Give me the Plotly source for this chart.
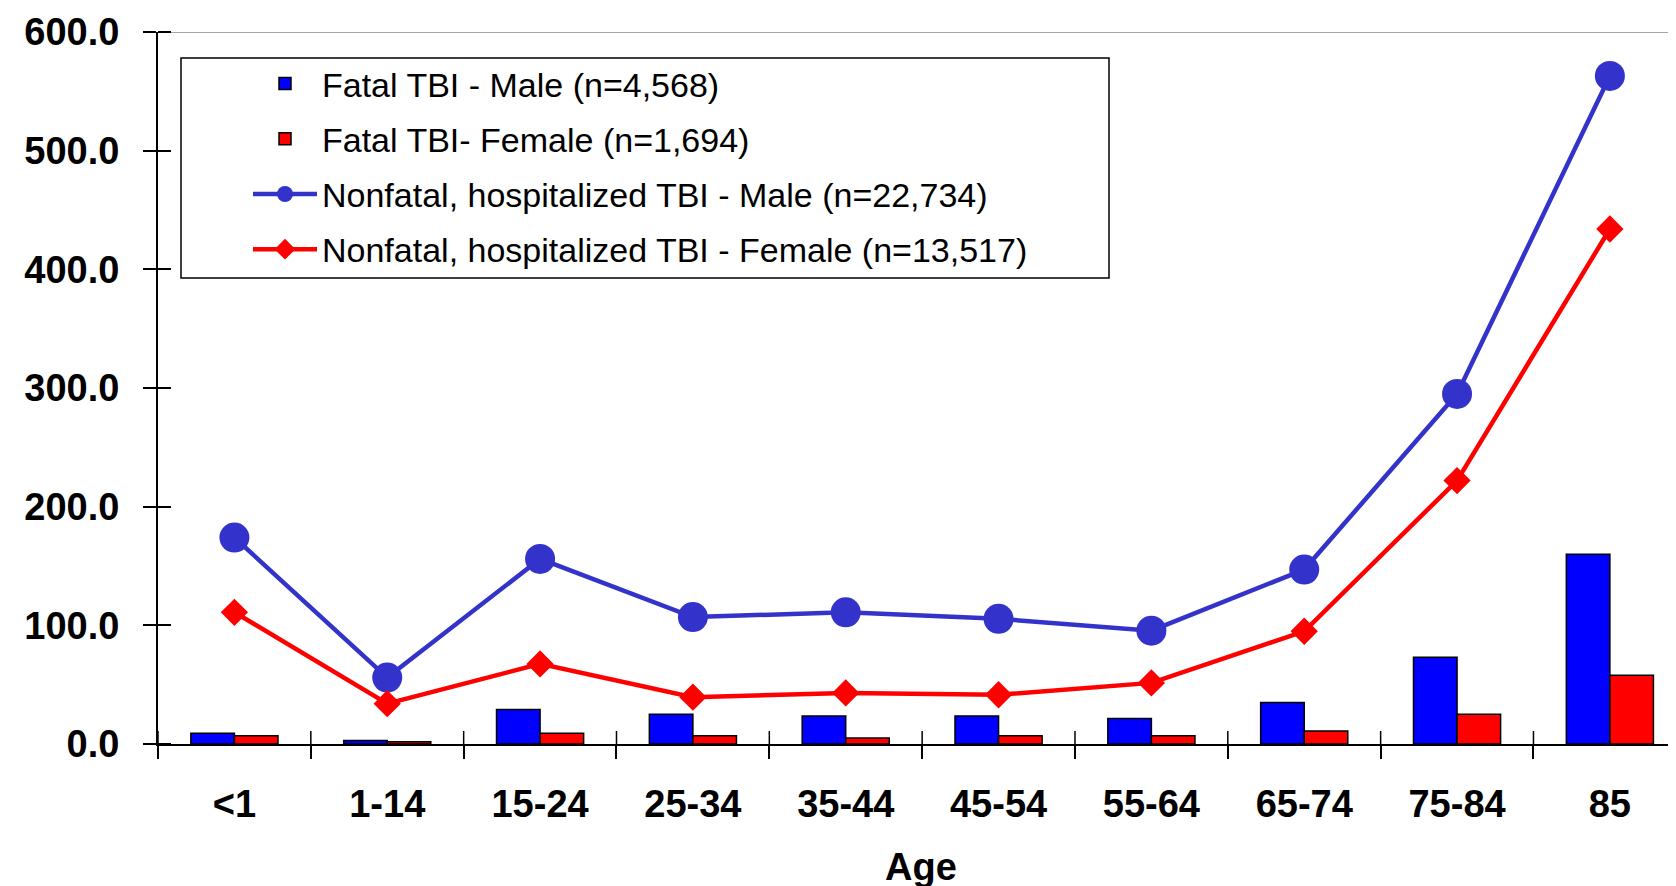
import plotly.graph_objects as go

ages = ["<1", "1-14", "15-24", "25-34", "35-44", "45-54", "55-64", "65-74", "75-84", "85"]
fatal_male = [9, 3, 29, 25, 23.5, 23.5, 21.5, 35, 73, 160]
fatal_female = [7, 2, 9, 7, 5, 7, 7, 11, 25, 58]
nonfatal_male = [174, 56, 156, 107, 111, 105.5, 95.5, 147, 295, 563]
nonfatal_female = [111, 34, 67.5, 39.5, 43, 41.5, 51.5, 95, 222, 434]
yticks = [0, 100, 200, 300, 400, 500, 600]

W, H = 1676, 886
L, R, T, B = 150, 0, 24, 150
pw, ph = W - L - R, H - T - B
XR = [-0.5, 9.485]

def px(x):
    return (x - L) / pw

def py(y):
    return (H - B - y) / ph

legfont = dict(family="Liberation Sans, Arial", size=34, color="black")
tickfont = dict(family="Liberation Sans, Arial", size=38, color="black")

fig = go.Figure()
fig.add_trace(go.Bar(x=ages, y=fatal_male, name="Fatal TBI - Male (n=4,568)",
                     marker=dict(color="#0000FF", line=dict(color="black", width=1.5)),
                     legendgroup="a"))
fig.add_trace(go.Bar(x=ages, y=fatal_female, name="Fatal TBI- Female (n=1,694)",
                     marker=dict(color="#FF0000", line=dict(color="black", width=1.5)),
                     legendgroup="b"))
fig.add_trace(go.Scatter(x=ages, y=nonfatal_male, name="Nonfatal, hospitalized TBI - Male (n=22,734)",
                         mode="lines+markers", line=dict(color="#3333CC", width=4.5),
                         marker=dict(symbol="circle", size=30, color="#3333CC"),
                         cliponaxis=False, legendgroup="c"))
fig.add_trace(go.Scatter(x=ages, y=nonfatal_female, name="Nonfatal, hospitalized TBI - Female (n=13,517)",
                         mode="lines+markers", line=dict(color="#FF0000", width=4.5),
                         marker=dict(symbol="diamond", size=21, color="#FF0000"),
                         cliponaxis=False, legendgroup="d"))

fig.add_shape(type="rect", xref="paper", yref="paper",
              x0=px(173), x1=px(1101), y0=py(270), y1=py(50),
              line=dict(color="black", width=1.5), fillcolor="white", layer="below")
fig.add_shape(type="line", xref="paper", yref="y", x0=0, x1=1, y0=600, y1=600,
              line=dict(color="#888888", width=1.5), layer="below")
# upper half of the crossing category-boundary ticks on the x axis
for i in range(len(ages) + 1):
    fig.add_shape(type="line", xref="x", yref="y", x0=i - 0.5, x1=i - 0.5,
                  ysizemode="pixel", yanchor=0, y0=0, y1=13,
                  line=dict(color="black", width=1.5))

fig.update_layout(
    width=W, height=H,
    margin=dict(l=L, r=R, t=T, b=B, pad=0),
    paper_bgcolor="white", plot_bgcolor="rgba(0,0,0,0)",
    barmode="group", bargap=0.43, bargroupgap=0,
    showlegend=True,
    legend=dict(x=px(240), y=py(47), xanchor="left", yanchor="top",
                font=legfont, bgcolor="rgba(0,0,0,0)", borderwidth=0,
                itemwidth=64, tracegroupgap=8, traceorder="grouped"),
    xaxis=dict(type="category", range=XR, showline=True, linecolor="black", linewidth=2,
               ticks="outside", tickson="boundaries", ticklen=13, tickcolor="black", tickwidth=1.5,
               tickfont=tickfont, showgrid=False, ticklabelstandoff=25,
               tickprefix="<b>", ticksuffix="</b>",
               title=dict(text="<b>Age</b>", font=tickfont, standoff=30)),
    yaxis=dict(range=[0, 600], tickvals=yticks,
               ticktext=[f"<b>{v:.1f}</b>" for v in yticks],
               showline=True, linecolor="black", linewidth=2,
               ticks="outside", ticklen=13, tickcolor="black", tickwidth=1.5,
               minor=dict(ticks="inside", tickvals=yticks, ticklen=13, tickcolor="black",
                          tickwidth=1.5, showgrid=False),
               tickfont=tickfont, showgrid=False, zeroline=False, ticklabelstandoff=16),
    font=dict(family="Liberation Sans, Arial"),
)

fig.write_html("out.html")
